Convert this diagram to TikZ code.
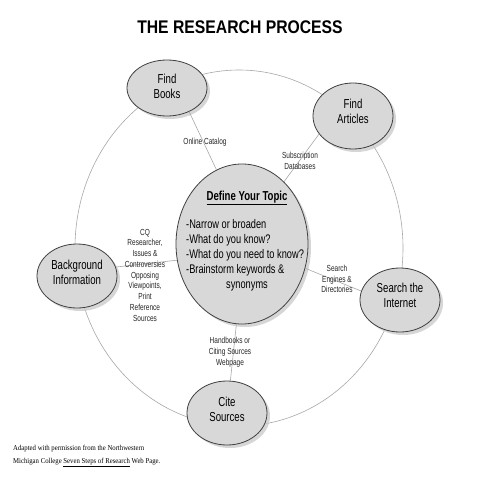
\documentclass[tikz,border=0pt]{standalone}
\usepackage{fontspec}
\setmainfont{Liberation Sans}[FakeStretch=0.74]
\newfontfamily\titlefont{Liberation Sans}[FakeStretch=0.86]
\newfontfamily\footfont{Liberation Serif}[FakeStretch=0.9]
\usetikzlibrary{shapes.geometric,shadows}
\definecolor{bubblefill}{HTML}{D8D8D8}
\definecolor{bubbleline}{HTML}{404040}
\definecolor{ringcol}{HTML}{A8A8A8}
\tikzset{
  bubble/.style={ellipse, draw=bubbleline, line width=0.8pt, fill=bubblefill, inner sep=0pt,
    drop shadow={shadow xshift=3pt, shadow yshift=-3pt, fill=black!20, opacity=0.8}},
  bubbletext/.style={align=center, font=\fontsize{13}{15}\selectfont, inner sep=0pt},
  smalllbl/.style={align=center, font=\fontsize{8.8}{10.75}\selectfont, inner sep=0pt, text=black!85},
  footline/.style={font=\footfont\fontsize{7.5}{9}\selectfont, anchor=base west, inner sep=0pt},
  ring/.style={draw=ringcol, line width=0.6pt},
  link/.style={draw=ringcol, line width=0.6pt}
}
\begin{document}
\begin{tikzpicture}[x=1pt,y=-1pt]
\useasboundingbox[fill=white] (0,0) rectangle (480,480);
% title
\node[font=\titlefont\bfseries\fontsize{18.3}{20}\selectfont, inner sep=0pt] (title) at (240,27) {THE RESEARCH PROCESS};
% outer ring
\draw[ring] (239,248) ellipse [x radius=164, y radius=178];
% centres
\path (167,88) coordinate (cb) (353,116) coordinate (ca) (242,244) coordinate (ct)
      (77,276) coordinate (cg) (400,300) coordinate (ci) (227,413) coordinate (cc);
% bubbles
\node[bubble, minimum width=80pt, minimum height=56pt] (books) at (cb) {};
\node[bubble, minimum width=80pt, minimum height=66pt] (articles) at (ca) {};
\node[bubble, minimum width=132pt, minimum height=160pt] (topic) at (ct) {};
\node[bubble, minimum width=80pt, minimum height=64pt] (background) at (cg) {};
\node[bubble, minimum width=80pt, minimum height=64pt] (internet) at (ci) {};
\node[bubble, minimum width=80pt, minimum height=64pt] (cite) at (cc) {};
% connectors
\draw[link] (books.-47) -- (topic.109);
\draw[link] (articles.208) -- (topic.56);
\draw[link] (background.13) -- (topic.194);
\draw[link] (topic.-21) -- (internet.167);
\draw[link] (topic.-94) -- (cite.84);
% bubble texts
\node[bubbletext] (booksT) at (167,86.5) {Find\\Books};
\node[bubbletext] (articlesT) at (353,111.5) {Find\\Articles};
\node[bubbletext] (backgroundT) at (77,272) {Background\\Information};
\node[bubbletext] (internetT) at (400,295.5) {Search the\\Internet};
\node[bubbletext] (citeT) at (227,409.5) {Cite\\Sources};
\node[font=\bfseries\fontsize{13}{15}\selectfont, inner sep=0pt] (topicH) at (247,198) {\underline{Define Your Topic}};
\node[font=\fontsize{12.5}{15}\selectfont, align=left, anchor=north west, inner sep=0pt] (topicB) at (186,219) {-Narrow or broaden\\-What do you know?\\-What do you need to know?\\-Brainstorm keywords \&\\\hspace*{40pt}synonyms};
% edge labels
\node[smalllbl] (l1) at (205,142) {Online Catalog};
\node[smalllbl] (l2) at (300,161) {Subscription\\Databases};
\node[smalllbl] (l3) at (145,275) {CQ\\Researcher,\\Issues \&\\Controversies\\Opposing\\Viewpoints,\\Print\\Reference\\Sources};
\node[smalllbl] (l4) at (337,279) {Search\\Engines \&\\Directories};
\node[smalllbl] (l5) at (230,352) {Handbooks or\\Citing Sources\\Webpage};
% footer
\node[footline] (foot1) at (13,450.5) {Adapted with permission from the Northwestern};
\node[footline] (foot2) at (13,463.5) {Michigan College \underline{Seven Steps of Research} Web Page.};
\end{tikzpicture}
\end{document}
